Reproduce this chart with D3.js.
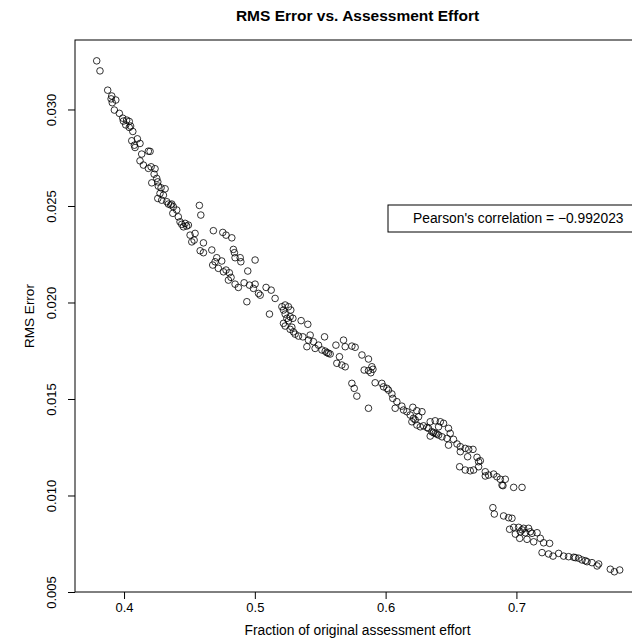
<!DOCTYPE html>
<html>
<head>
<meta charset="utf-8">
<script src="https://cdn.jsdelivr.net/npm/d3@7"></script>
<style>
  body { margin: 0; background: #fff; }
  text { font-family: "Liberation Sans", Arial, Helvetica, sans-serif; fill: #000; }
</style>
</head>
<body>
<div id="scatter-plot"></div>
<script>
// Fraction of original assessment effort (x) and RMS error (y)
const effort = [
  0.3791, 0.3816, 0.3875, 0.3906, 0.3901, 0.3937, 0.3910, 0.3926, 0.3964, 0.3990,
  0.3995, 0.4020, 0.4040, 0.4013, 0.4050, 0.4040, 0.4067, 0.4059, 0.4102, 0.4122,
  0.4079, 0.4084, 0.4186, 0.4199, 0.4135, 0.4122, 0.4148, 0.4207, 0.4186, 0.4237,
  0.4230, 0.4250, 0.4258, 0.4212, 0.4262, 0.4283, 0.4314, 0.4275, 0.4301, 0.4258,
  0.4288, 0.4327, 0.4339, 0.4357, 0.4377, 0.4365, 0.4403, 0.4373, 0.4415, 0.4428,
  0.4467, 0.4492, 0.4454, 0.4441, 0.4479, 0.4576, 0.4587, 0.4683, 0.4755, 0.4780,
  0.4824, 0.4505, 0.4543, 0.4518, 0.4536, 0.4607, 0.4582, 0.4607, 0.4671, 0.4836,
  0.4844, 0.4888, 0.4849, 0.4893, 0.5002, 0.4709, 0.4747, 0.4696, 0.4678, 0.4721,
  0.4780, 0.4760, 0.4946, 0.4805, 0.4818, 0.4798, 0.4849, 0.4874, 0.4918, 0.4959,
  0.5002, 0.4989, 0.5086, 0.5125, 0.5028, 0.5041, 0.4939, 0.5155, 0.5112, 0.5207,
  0.5232, 0.5257, 0.5219, 0.5275, 0.5232, 0.5270, 0.5245, 0.5291, 0.5354, 0.5405,
  0.5219, 0.5232, 0.5270, 0.5295, 0.5308, 0.5334, 0.5367, 0.5423, 0.5533, 0.5410,
  0.5448, 0.5487, 0.5398, 0.5461, 0.5513, 0.5551, 0.5576, 0.5620, 0.5678, 0.5691,
  0.5742, 0.5647, 0.5627, 0.5665, 0.5691, 0.5257, 0.5283, 0.5538, 0.5563, 0.5767,
  0.5819, 0.5869, 0.5836, 0.5869, 0.5903, 0.5895, 0.5887, 0.5742, 0.5760, 0.5780,
  0.5869, 0.5920, 0.5971, 0.5984, 0.6022, 0.6010, 0.6048, 0.6055, 0.6086, 0.6073,
  0.6124, 0.6137, 0.6163, 0.6208, 0.6239, 0.6278, 0.6188, 0.6213, 0.6252, 0.6201,
  0.6265, 0.6239, 0.6341, 0.6379, 0.6418, 0.6443, 0.6405, 0.6328, 0.6354, 0.6379,
  0.6405, 0.6341, 0.6431, 0.6481, 0.6494, 0.6469, 0.6519, 0.6481, 0.6546, 0.6571,
  0.6609, 0.6635, 0.6668, 0.6571, 0.6627, 0.6699, 0.6711, 0.6226, 0.6290, 0.6316,
  0.6366, 0.6392, 0.6566, 0.6609, 0.6647, 0.6673, 0.6711, 0.6762, 0.6787, 0.6826,
  0.6851, 0.6762, 0.6877, 0.6915, 0.6890, 0.6979, 0.7043, 0.6724, 0.6897, 0.6820,
  0.6831, 0.6902, 0.6940, 0.6966, 0.6948, 0.6979, 0.7017, 0.7055, 0.7093, 0.6992,
  0.7030, 0.7068, 0.7119, 0.7158, 0.7025, 0.7081, 0.7132, 0.7183, 0.7208, 0.7254,
  0.7043, 0.7106, 0.7196, 0.7246, 0.7280, 0.7323, 0.7361, 0.7399, 0.7438, 0.7476,
  0.7502, 0.7540, 0.7578, 0.7629, 0.7617, 0.7451, 0.7527, 0.7718, 0.7749, 0.7790
];
const rmsError = [
  0.03252, 0.03200, 0.03100, 0.03070, 0.03055, 0.03049, 0.03035, 0.02997, 0.02980, 0.02955,
  0.02940, 0.02945, 0.02938, 0.02920, 0.02914, 0.02907, 0.02886, 0.02838, 0.02848, 0.02824,
  0.02815, 0.02803, 0.02784, 0.02783, 0.02769, 0.02734, 0.02712, 0.02703, 0.02695, 0.02693,
  0.02665, 0.02643, 0.02625, 0.02620, 0.02603, 0.02594, 0.02589, 0.02565, 0.02556, 0.02539,
  0.02530, 0.02522, 0.02510, 0.02505, 0.02496, 0.02510, 0.02479, 0.02462, 0.02444, 0.02418,
  0.02410, 0.02401, 0.02392, 0.02405, 0.02396, 0.02503, 0.02453, 0.02372, 0.02363, 0.02349,
  0.02335, 0.02349, 0.02358, 0.02314, 0.02323, 0.02309, 0.02268, 0.02258, 0.02272, 0.02275,
  0.02258, 0.02232, 0.02232, 0.02211, 0.02220, 0.02232, 0.02215, 0.02211, 0.02194, 0.02177,
  0.02168, 0.02159, 0.02163, 0.02154, 0.02130, 0.02116, 0.02095, 0.02078, 0.02102, 0.02090,
  0.02095, 0.02073, 0.02078, 0.02064, 0.02047, 0.02038, 0.02004, 0.02021, 0.01940, 0.01978,
  0.01987, 0.01978, 0.01961, 0.01961, 0.01940, 0.01926, 0.01918, 0.01918, 0.01906, 0.01887,
  0.01892, 0.01878, 0.01861, 0.01848, 0.01836, 0.01826, 0.01822, 0.01831, 0.01822, 0.01805,
  0.01797, 0.01779, 0.01771, 0.01762, 0.01754, 0.01740, 0.01733, 0.01779, 0.01805, 0.01771,
  0.01774, 0.01719, 0.01685, 0.01676, 0.01667, 0.01905, 0.01872, 0.01748, 0.01737, 0.01768,
  0.01728, 0.01707, 0.01650, 0.01647, 0.01654, 0.01667, 0.01636, 0.01581, 0.01555, 0.01515,
  0.01452, 0.01584, 0.01581, 0.01563, 0.01546, 0.01555, 0.01526, 0.01503, 0.01486, 0.01452,
  0.01463, 0.01443, 0.01434, 0.01457, 0.01439, 0.01434, 0.01417, 0.01400, 0.01408, 0.01382,
  0.01356, 0.01365, 0.01382, 0.01387, 0.01382, 0.01374, 0.01356, 0.01348, 0.01330, 0.01322,
  0.01313, 0.01308, 0.01304, 0.01348, 0.01322, 0.01296, 0.01291, 0.01261, 0.01267, 0.01253,
  0.01244, 0.01239, 0.01239, 0.01227, 0.01201, 0.01198, 0.01175, 0.01392, 0.01361, 0.01352,
  0.01326, 0.01318, 0.01149, 0.01132, 0.01128, 0.01132, 0.01149, 0.01123, 0.01106, 0.01111,
  0.01097, 0.01101, 0.01084, 0.01084, 0.01054, 0.01042, 0.01042, 0.01180, 0.01051, 0.00937,
  0.00904, 0.00894, 0.00885, 0.00882, 0.00825, 0.00835, 0.00835, 0.00830, 0.00830, 0.00800,
  0.00812, 0.00807, 0.00804, 0.00807, 0.00778, 0.00773, 0.00760, 0.00778, 0.00755, 0.00752,
  0.00822, 0.00812, 0.00704, 0.00697, 0.00686, 0.00700, 0.00686, 0.00683, 0.00680, 0.00675,
  0.00666, 0.00657, 0.00652, 0.00645, 0.00635, 0.00678, 0.00662, 0.00618, 0.00605, 0.00614
];

const xTicks = [0.4, 0.5, 0.6, 0.7];
const yTicks = [0.005, 0.010, 0.015, 0.020, 0.025, 0.030];
const correlation = "\u22120.992023";

const width = 632, height = 643;
// the plot region runs a little past the right edge of the picture, as in the original
const margin = { top: 40, right: -8, bottom: 51, left: 75 };
const innerWidth = width - margin.left - margin.right;
const innerHeight = height - margin.top - margin.bottom;

const svg = d3.select('#scatter-plot')
    .append('svg')
    .attr('width', width)
    .attr('height', height);

const g = svg.append('g')
    .attr('transform', `translate(${margin.left},${margin.top})`);

const xScale = d3.scaleLinear().domain([0.3625, 0.7945]).range([0, innerWidth]);
const yScale = d3.scaleLinear().domain([0.005, 0.0336]).range([innerHeight, 0]);

// Title
svg.append('text')
    .attr('x', margin.left + innerWidth / 2)
    .attr('y', 21)
    .attr('text-anchor', 'middle')
    .style('font-size', '15.5px')
    .style('font-weight', 'bold')
    .text('RMS Error vs. Assessment Effort');

// Points (open circles, like R pch = 1)
g.selectAll('circle')
    .data(effort.map((x, i) => [x, rmsError[i]]))
    .join('circle')
    .attr('cx', d => xScale(d[0]))
    .attr('cy', d => yScale(d[1]))
    .attr('r', 3.3)
    .attr('fill', 'none')
    .attr('stroke', '#000')
    .attr('stroke-width', 0.8);

// Axes
const xAxis = g.append('g')
    .attr('transform', `translate(0,${innerHeight})`)
    .call(d3.axisBottom(xScale).tickValues(xTicks).tickSize(7).tickPadding(4).tickFormat(d3.format('.1f')));
xAxis.select('.domain').remove();
xAxis.selectAll('text').style('font-size', '13px');

const yAxis = g.append('g')
    .call(d3.axisLeft(yScale).tickValues(yTicks).tickSize(7).tickFormat(d3.format('.3f')));
yAxis.select('.domain').remove();
yAxis.selectAll('text')
    .attr('transform', 'rotate(-90)')
    .attr('x', 0)
    .attr('y', -19)
    .attr('dy', 0)
    .attr('text-anchor', 'middle')
    .style('font-size', '13px');

// Plot box
g.append('rect')
    .attr('width', innerWidth)
    .attr('height', innerHeight)
    .attr('fill', 'none')
    .attr('stroke', '#000')
    .attr('stroke-width', 1);

// Axis labels
svg.append('text')
    .attr('x', margin.left + innerWidth / 2)
    .attr('y', 635)
    .attr('text-anchor', 'middle')
    .style('font-size', '13.8px')
    .text('Fraction of original assessment effort');

svg.append('text')
    .attr('transform', 'rotate(-90)')
    .attr('x', -(margin.top + innerHeight / 2))
    .attr('y', 34)
    .attr('text-anchor', 'middle')
    .style('font-size', '13.5px')
    .text('RMS Error');

// Legend box with correlation
const legendLeft = 388, legendTop = 205;
svg.append('rect')
    .attr('x', legendLeft)
    .attr('y', legendTop)
    .attr('width', 262)
    .attr('height', 27)
    .attr('fill', '#fff')
    .attr('stroke', '#000')
    .attr('stroke-width', 1);

svg.append('text')
    .attr('x', legendLeft + 25)
    .attr('y', legendTop + 18)
    .attr('text-anchor', 'start')
    .style('font-size', '13.8px')
    .text(`Pearson's correlation = ${correlation}`);
</script>
</body>
</html>
